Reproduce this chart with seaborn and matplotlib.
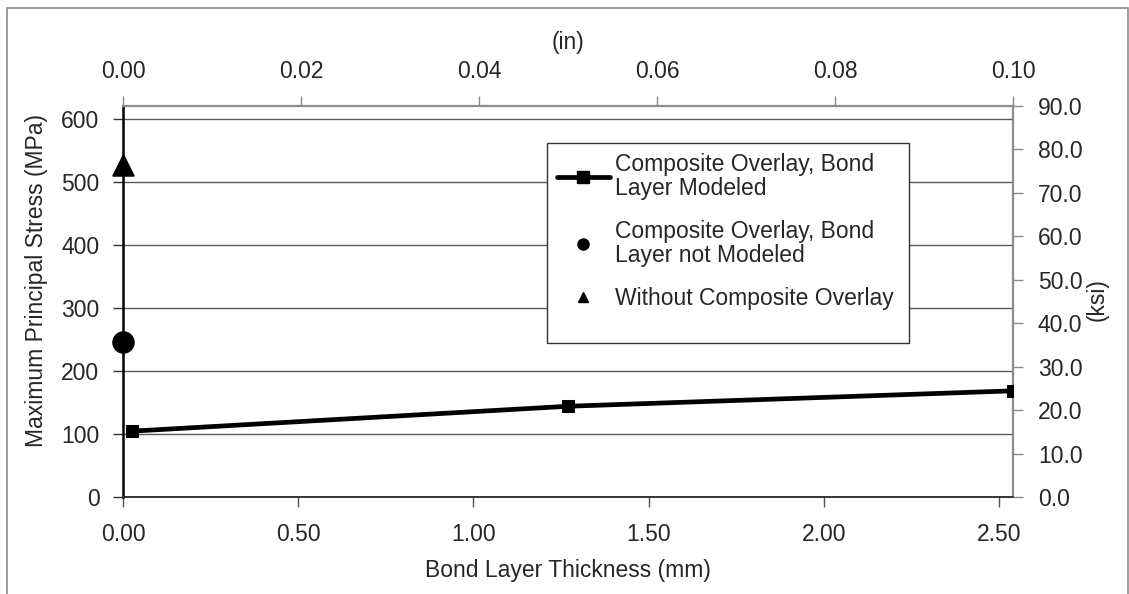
import matplotlib
matplotlib.use("Agg")
import matplotlib.pyplot as plt
from matplotlib.lines import Line2D
from matplotlib.patches import Rectangle
from matplotlib.ticker import FormatStrFormatter
import seaborn as sns
import pandas as pd

# Bond layer thickness (mm) vs. maximum principal stress (MPa)
modeled_thickness_mm = [0.0254, 1.27, 2.54]
modeled_stress_mpa = [104.5, 144.0, 168.5]
unmodeled_thickness_mm = [0.0]
unmodeled_stress_mpa = [246.0]
no_overlay_thickness_mm = [0.0]
no_overlay_stress_mpa = [527.0]

label_modeled = "Composite Overlay, Bond\nLayer Modeled"
label_unmodeled = "Composite Overlay, Bond\nLayer not Modeled"
label_no_overlay = "Without Composite Overlay"

bottom_ticks_mm = [0.0, 0.5, 1.0, 1.5, 2.0, 2.5]
top_ticks_in = [0.0, 0.02, 0.04, 0.06, 0.08, 0.10]
left_ticks_mpa = [0, 100, 200, 300, 400, 500, 600]
right_ticks_ksi = [0, 10, 20, 30, 40, 50, 60, 70, 80, 90]

MPA_PER_KSI = 6.894757
MM_PER_IN = 25.4
KSI_MAX = 90.0
X_MAX_MM = 2.54

sns.set_style("white")
plt.rcParams["font.family"] = ["Liberation Sans", "DejaVu Sans"]
FS = 16.5

fig = plt.figure(figsize=(11.29, 5.94), dpi=100)
ax = fig.add_axes([123 / 1129, 1 - 497 / 594, 890 / 1129, 391 / 594])

ax.set_ylim(0, KSI_MAX * MPA_PER_KSI)
ax.set_xlim(0, X_MAX_MM)
ax.set_yticks(left_ticks_mpa)
ax.grid(False)
for v in left_ticks_mpa[1:]:
    ax.axhline(v, color="#5a5a5a", lw=1.0, zorder=1)

df_mod = pd.DataFrame({"t": modeled_thickness_mm, "s": modeled_stress_mpa})
sns.lineplot(data=df_mod, x="t", y="s", ax=ax, color="black", lw=3.4,
             marker="s", markersize=9, markeredgecolor="black", zorder=4,
             legend=False)
df_un = pd.DataFrame({"t": unmodeled_thickness_mm, "s": unmodeled_stress_mpa})
sns.scatterplot(data=df_un, x="t", y="s", ax=ax, color="black", marker="o",
                s=15 ** 2, edgecolor="black", zorder=5, clip_on=False,
                legend=False)
df_no = pd.DataFrame({"t": no_overlay_thickness_mm, "s": no_overlay_stress_mpa})
sns.scatterplot(data=df_no, x="t", y="s", ax=ax, color="black", marker="^",
                s=15 ** 2, edgecolor="black", zorder=5, clip_on=False,
                legend=False)

# spines
for side in ["top", "right"]:
    ax.spines[side].set_color("#8c8c8c")
    ax.spines[side].set_linewidth(1.6)
ax.spines["left"].set_color("black")
ax.spines["left"].set_linewidth(1.8)
ax.spines["bottom"].set_color("#333333")
ax.spines["bottom"].set_linewidth(1.4)

ax.set_xticks(bottom_ticks_mm)
ax.xaxis.set_major_formatter(FormatStrFormatter("%.2f"))
ax.tick_params(axis="x", which="major", bottom=True, direction="out",
               length=7, width=1.0, color="#555555", labelsize=FS, pad=12)
ax.tick_params(axis="y", which="major", left=True, direction="out",
               length=7, width=1.0, color="#333333", labelsize=FS, pad=10)
ax.set_xlabel("Bond Layer Thickness (mm)", fontsize=FS, va="center")
ax.set_ylabel("Maximum Principal Stress (MPa)", fontsize=FS, va="center")
ax.xaxis.set_label_coords(0.5, (497 - 571) / 391)
ax.yaxis.set_label_coords((37 - 123) / 890, (497 - 280) / 391)

# secondary axes: inches on top, ksi on right
axt = ax.twiny()
axt.set_xlim(0, X_MAX_MM / MM_PER_IN)
axt.set_xticks(top_ticks_in)
axt.xaxis.set_major_formatter(FormatStrFormatter("%.2f"))
axt.tick_params(axis="x", top=True, direction="out", length=7, width=1.0,
                color="#8c8c8c", labelsize=FS, pad=9.5)
axt.set_xlabel("(in)", fontsize=FS, va="center")
axt.xaxis.set_label_coords(0.5, (497 - 42) / 391)

axr = ax.twinx()
axr.set_ylim(0, KSI_MAX)
axr.set_yticks(right_ticks_ksi)
axr.yaxis.set_major_formatter(FormatStrFormatter("%.1f"))
axr.tick_params(axis="y", right=True, direction="out", length=7, width=1.0,
                color="#8c8c8c", labelsize=FS, pad=11)
axr.set_ylabel("(ksi)", fontsize=FS, va="center")
axr.yaxis.set_label_coords((1097 - 123) / 890, (497 - 300) / 391)
for a in (axt, axr):
    a.grid(False)
    for side in a.spines:
        a.spines[side].set_visible(False)

# legend box
axr.add_patch(Rectangle(((547 - 123) / 890, (497 - 343) / 391),
                        (909 - 547) / 890, (343 - 143) / 391,
                        transform=axr.transAxes, facecolor="white",
                        edgecolor="#333333", lw=1.0, zorder=9))
handles = [
    Line2D([], [], color="black", lw=3.4, marker="s", markersize=8),
    Line2D([], [], color="black", lw=0, marker="o", markersize=8),
    Line2D([], [], color="black", lw=0, marker="^", markersize=7),
]
leg = axr.legend(handles, [label_modeled, label_unmodeled, label_no_overlay],
                 loc="upper left",
                 bbox_to_anchor=((557 - 123) / 890, (497 - 153) / 391),
                 fontsize=FS, frameon=False, handlelength=2.3,
                 handletextpad=0.25, labelspacing=0.88, borderpad=0,
                 borderaxespad=0)
for t in leg.get_texts():
    t.set_linespacing(1.05)
leg.set_zorder(10)

# outer frame
fig.patches.append(Rectangle((7 / 1129, -0.02), 1121 / 1129, 1 - 8 / 594 + 0.02,
                             transform=fig.transFigure, fill=False,
                             edgecolor="#8c8c8c", lw=1.2))

fig.savefig("out.png", dpi=100)
